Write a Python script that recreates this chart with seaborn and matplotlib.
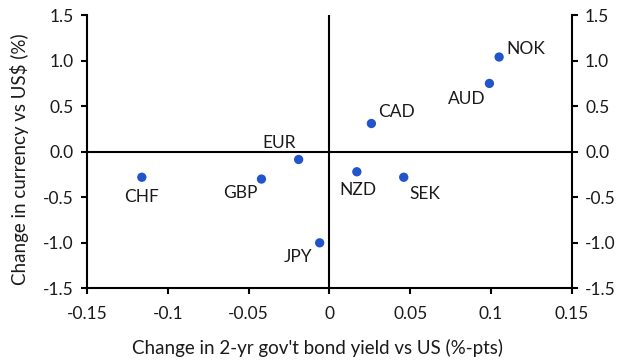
import matplotlib
matplotlib.use("Agg")
import matplotlib.pyplot as plt
import seaborn as sns
import pandas as pd

currencies = ["CHF", "GBP", "EUR", "JPY", "NZD", "CAD", "SEK", "AUD", "NOK"]
yield_change = [-0.116, -0.042, -0.019, -0.006, 0.017, 0.026, 0.046, 0.099, 0.105]
fx_change = [-0.28, -0.30, -0.085, -1.0, -0.22, 0.31, -0.28, 0.75, 1.04]

# label offsets in points (dx, dy, ha)
label_pos = {
    "CHF": (0, -14, "center"),
    "GBP": (-3, -10, "right"),
    "EUR": (-2, 12, "right"),
    "JPY": (-5, -10, "right"),
    "NZD": (1, -13, "center"),
    "CAD": (5, 8, "left"),
    "SEK": (4, -12, "left"),
    "AUD": (-3, -11, "right"),
    "NOK": (5, 6, "left"),
}

x_ticks = [-0.15, -0.1, -0.05, 0, 0.05, 0.1, 0.15]
x_ticklabels = ["-0.15", "-0.1", "-0.05", "0", "0.05", "0.1", "0.15"]
y_ticks = [-1.5, -1.0, -0.5, 0.0, 0.5, 1.0, 1.5]
y_ticklabels = ["-1.5", "-1.0", "-0.5", "0.0", "0.5", "1.0", "1.5"]

sns.set_style("white")
plt.rcParams["font.family"] = ["Lato", "DejaVu Sans"]
plt.rcParams["axes.unicode_minus"] = False

df = pd.DataFrame({"ccy": currencies, "x": yield_change, "y": fx_change})

fig = plt.figure(figsize=(6.34, 3.6), dpi=100)
ax = fig.add_axes([0.137, 0.199, 0.765, 0.759])

ax.axhline(0, color="black", lw=1.5, zorder=1)
ax.axvline(0, color="black", lw=1.5, zorder=1)

sns.scatterplot(data=df, x="x", y="y", ax=ax, color="#2255cc", s=45,
                edgecolor="none", zorder=3, legend=False)

for c, xv, yv in zip(currencies, yield_change, fx_change):
    dx, dy, ha = label_pos[c]
    ax.annotate(c, (xv, yv), xytext=(dx, dy), textcoords="offset points",
                ha=ha, va="center", fontsize=12.5, color="#1a1a1a")

ax.set_xlim(-0.15, 0.15)
ax.set_ylim(-1.5, 1.5)
ax.set_xticks(x_ticks)
ax.set_xticklabels(x_ticklabels)
ax.set_yticks(y_ticks)
ax.set_yticklabels(y_ticklabels)

for side in ["left", "right", "bottom"]:
    ax.spines[side].set_visible(True)
    ax.spines[side].set_color("black")
    ax.spines[side].set_linewidth(1.5)
ax.spines["top"].set_visible(False)

ax.tick_params(axis="both", which="major", direction="out", length=4.5, width=1.5,
               color="black", labelsize=12.5, labelcolor="#1a1a1a")
ax.tick_params(axis="y", left=True, right=True, labelleft=True, labelright=True, pad=5)
ax.tick_params(axis="x", bottom=True, pad=8)

ax.set_xlabel("Change in 2-yr gov't bond yield vs US (%-pts)", fontsize=13.5, color="#1a1a1a")
ax.set_ylabel("Change in currency vs US$ (%)", fontsize=13.5, color="#1a1a1a")
ax.xaxis.set_label_coords(0.475, -0.185)
ax.yaxis.set_label_coords(-0.12, 0.473)

fig.savefig("out.png", dpi=100)
